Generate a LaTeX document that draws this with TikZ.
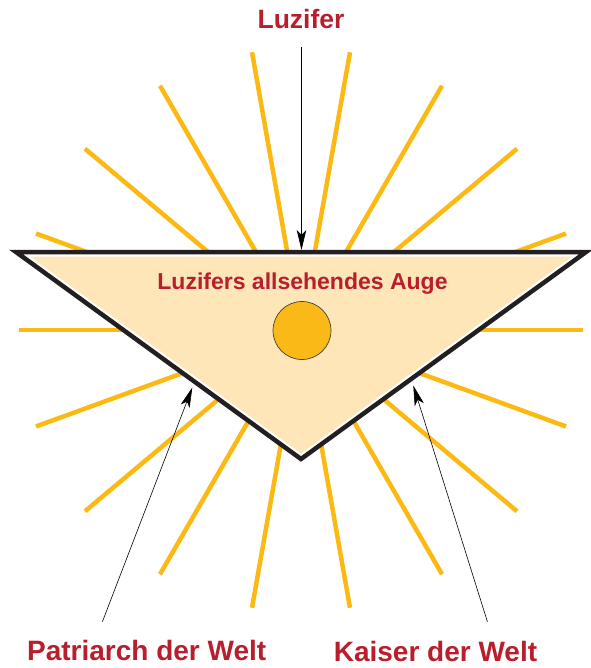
\documentclass[tikz,border=0pt]{standalone}
\usepackage{fontspec}
\setmainfont{Liberation Sans}
\usepackage{tikz}
\usetikzlibrary{arrows.meta, calc}

\definecolor{rayorange}{RGB}{253,185,19}
\definecolor{eyefill}{RGB}{254,230,184}
\definecolor{eyeball}{RGB}{251,185,23}
\definecolor{labelred}{RGB}{185,30,45}
\definecolor{edgeblack}{RGB}{35,31,32}

\begin{document}
\begin{tikzpicture}[
    x=1pt, y=-1pt,
    ray/.style={draw=rayorange, line width=4.5pt},
    eyeframe/.style={draw=edgeblack, line width=4.5pt, line join=miter},
    redtext/.style={font=\bfseries\fontsize{28}{30}\selectfont, text=labelred, anchor=base, inner sep=0pt},
    pointer/.style={draw=black, line width=0.6pt, -{Stealth[length=20pt, width=9.5pt, inset=5pt]}}
]
    \useasboundingbox (0,0) rectangle (590,668);

    % rays behind the triangle
    \coordinate (sun) at (301,330);
    \foreach \a in {0,20,...,340}
        \draw[ray] (sun) -- ++(\a:282);

    % the triangle
    \coordinate (tl) at (16,252);
    \coordinate (tr) at (586,252);
    \coordinate (tb) at (301,459);
    \fill[white] (tl) -- (tr) -- (tb) -- cycle;
    \fill[eyefill] (30,256.5) -- (572,256.5) -- (301,453.4) -- cycle;
    \draw[eyeframe] (tl) -- (tr) -- (tb) -- cycle;

    \node[circle, draw=black!75, line width=0.7pt, fill=eyeball, minimum size=58pt, inner sep=0pt] (eye) at (302,330.5) {};

    % labels
    \node[redtext, font=\bfseries\fontsize{26.5}{30}\selectfont] (luzifer) at (301,29) {Luzifer};
    \node[redtext, font=\bfseries\fontsize{23}{26}\selectfont] (auge) at (302.5,289.3) {Luzifers allsehendes Auge};
    \node[redtext] (patriarch) at (146.7,660.5) {Patriarch der Welt};
    \node[redtext] (kaiser) at (435.5,661) {Kaiser der Welt};

    % pointers
    \coordinate (luzifer-from) at (301.5,47);
    \coordinate (luzifer-to) at (301.5,250);
    \coordinate (patriarch-from) at (102.4,621.7);
    \coordinate (patriarch-to) at (192.3,387.5);
    \coordinate (kaiser-from) at (487.4,621.7);
    \coordinate (kaiser-to) at (413.3,385.5);
    \draw[pointer] (luzifer-from) -- (luzifer-to);
    \draw[pointer] (patriarch-from) -- (patriarch-to);
    \draw[pointer] (kaiser-from) -- (kaiser-to);
\end{tikzpicture}
\end{document}
